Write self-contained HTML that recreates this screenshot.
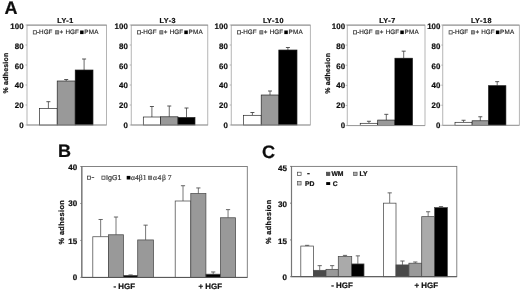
<!DOCTYPE html><html><head><meta charset="utf-8"><style>html,body{margin:0;padding:0;background:#fff}svg{display:block}text{text-rendering:geometricPrecision;font-family:"Liberation Sans", sans-serif}</style></head><body>
<svg width="520" height="290" viewBox="0 0 520 290">
<defs><filter id="bl" x="0" y="0" width="520" height="290" filterUnits="userSpaceOnUse"><feGaussianBlur stdDeviation="0.3"/></filter></defs>
<rect width="520" height="290" fill="#fff"/>
<g filter="url(#bl)">
<rect x="27" y="25" width="79.6" height="100" fill="#fff" stroke="#9c9c9c" stroke-width="0.75"/>
<line x1="27.00" y1="25.20" x2="106.60" y2="25.20" stroke="#888" stroke-width="0.8"/>
<text x="23.70" y="127.95" font-size="7.9" font-weight="bold" text-anchor="end" fill="#111" letter-spacing="0.05" stroke="#111" stroke-width="0.22">0</text>
<line x1="25.50" y1="125.00" x2="27.00" y2="125.00" stroke="#999" stroke-width="0.7"/>
<text x="23.70" y="108.19" font-size="7.9" font-weight="bold" text-anchor="end" fill="#111" letter-spacing="0.05" stroke="#111" stroke-width="0.22">20</text>
<line x1="25.50" y1="105.00" x2="27.00" y2="105.00" stroke="#999" stroke-width="0.7"/>
<text x="23.70" y="88.43" font-size="7.9" font-weight="bold" text-anchor="end" fill="#111" letter-spacing="0.05" stroke="#111" stroke-width="0.22">40</text>
<line x1="25.50" y1="85.00" x2="27.00" y2="85.00" stroke="#999" stroke-width="0.7"/>
<text x="23.70" y="68.67" font-size="7.9" font-weight="bold" text-anchor="end" fill="#111" letter-spacing="0.05" stroke="#111" stroke-width="0.22">60</text>
<line x1="25.50" y1="65.00" x2="27.00" y2="65.00" stroke="#999" stroke-width="0.7"/>
<text x="23.70" y="48.91" font-size="7.9" font-weight="bold" text-anchor="end" fill="#111" letter-spacing="0.05" stroke="#111" stroke-width="0.22">80</text>
<line x1="25.50" y1="45.00" x2="27.00" y2="45.00" stroke="#999" stroke-width="0.7"/>
<text x="23.70" y="29.15" font-size="7.9" font-weight="bold" text-anchor="end" fill="#111" letter-spacing="0.05" stroke="#111" stroke-width="0.22">100</text>
<line x1="25.50" y1="25.00" x2="27.00" y2="25.00" stroke="#999" stroke-width="0.7"/>
<text x="65.50" y="23.30" font-size="7.2" font-weight="bold" text-anchor="middle" fill="#111" letter-spacing="0.5" stroke="#111" stroke-width="0.22">LY-1</text>
<rect x="33.3" y="30.700000000000003" width="3.1" height="3.3" fill="#fff" stroke="#444" stroke-width="0.8"/>
<text x="37.00" y="34.10" font-size="6.3" font-weight="normal" text-anchor="start" fill="#222"  stroke="#222" stroke-width="0.15">-HGF</text>
<rect x="55.599999999999994" y="30.700000000000003" width="3.1" height="3.3" fill="#999" stroke="#555" stroke-width="0.7"/>
<text x="59.60" y="34.10" font-size="6.3" font-weight="normal" text-anchor="start" fill="#222"  stroke="#222" stroke-width="0.15">+</text>
<text x="65.50" y="34.10" font-size="6.3" font-weight="normal" text-anchor="start" fill="#222"  stroke="#222" stroke-width="0.15">HGF</text>
<rect x="80.1" y="30.500000000000004" width="3.5" height="3.6" fill="#000"/>
<text x="84.30" y="34.10" font-size="6.3" font-weight="normal" text-anchor="start" fill="#222" letter-spacing="0.25" stroke="#222" stroke-width="0.15">PMA</text>
<line x1="48.40" y1="101.70" x2="48.40" y2="108.50" stroke="#444" stroke-width="0.8"/>
<line x1="46.40" y1="101.70" x2="50.40" y2="101.70" stroke="#444" stroke-width="0.9"/>
<rect x="39.60" y="108.50" width="17.60" height="16.50" fill="#fff" stroke="#1a1a1a" stroke-width="0.65"/>
<line x1="66.20" y1="79.50" x2="66.20" y2="81.00" stroke="#444" stroke-width="0.8"/>
<line x1="64.20" y1="79.50" x2="68.20" y2="79.50" stroke="#444" stroke-width="0.9"/>
<rect x="57.20" y="81.00" width="18.00" height="44.00" fill="#999" stroke="#1a1a1a" stroke-width="0.65"/>
<line x1="84.10" y1="59.00" x2="84.10" y2="70.00" stroke="#444" stroke-width="0.8"/>
<line x1="82.10" y1="59.00" x2="86.10" y2="59.00" stroke="#444" stroke-width="0.9"/>
<rect x="75.20" y="70.00" width="17.80" height="55.00" fill="#000" stroke="#1a1a1a" stroke-width="0.65"/>
<line x1="27.00" y1="125.00" x2="106.60" y2="125.00" stroke="#999" stroke-width="0.9"/>
<text x="0.00" y="0.00" font-size="7" font-weight="bold" text-anchor="middle" fill="#111" transform="translate(7.9,73.0) rotate(-90)" letter-spacing="0.2" stroke="#111" stroke-width="0.22">% adhesion</text>
<rect x="131.2" y="25" width="76.60000000000002" height="100" fill="#fff" stroke="#9c9c9c" stroke-width="0.75"/>
<line x1="131.20" y1="25.20" x2="207.80" y2="25.20" stroke="#888" stroke-width="0.8"/>
<text x="127.90" y="127.95" font-size="7.9" font-weight="bold" text-anchor="end" fill="#111" letter-spacing="0.05" stroke="#111" stroke-width="0.22">0</text>
<line x1="129.70" y1="125.00" x2="131.20" y2="125.00" stroke="#999" stroke-width="0.7"/>
<text x="127.90" y="108.19" font-size="7.9" font-weight="bold" text-anchor="end" fill="#111" letter-spacing="0.05" stroke="#111" stroke-width="0.22">20</text>
<line x1="129.70" y1="105.00" x2="131.20" y2="105.00" stroke="#999" stroke-width="0.7"/>
<text x="127.90" y="88.43" font-size="7.9" font-weight="bold" text-anchor="end" fill="#111" letter-spacing="0.05" stroke="#111" stroke-width="0.22">40</text>
<line x1="129.70" y1="85.00" x2="131.20" y2="85.00" stroke="#999" stroke-width="0.7"/>
<text x="127.90" y="68.67" font-size="7.9" font-weight="bold" text-anchor="end" fill="#111" letter-spacing="0.05" stroke="#111" stroke-width="0.22">60</text>
<line x1="129.70" y1="65.00" x2="131.20" y2="65.00" stroke="#999" stroke-width="0.7"/>
<text x="127.90" y="48.91" font-size="7.9" font-weight="bold" text-anchor="end" fill="#111" letter-spacing="0.05" stroke="#111" stroke-width="0.22">80</text>
<line x1="129.70" y1="45.00" x2="131.20" y2="45.00" stroke="#999" stroke-width="0.7"/>
<text x="127.90" y="29.15" font-size="7.9" font-weight="bold" text-anchor="end" fill="#111" letter-spacing="0.05" stroke="#111" stroke-width="0.22">100</text>
<line x1="129.70" y1="25.00" x2="131.20" y2="25.00" stroke="#999" stroke-width="0.7"/>
<text x="167.80" y="23.30" font-size="7.2" font-weight="bold" text-anchor="middle" fill="#111" letter-spacing="0.5" stroke="#111" stroke-width="0.22">LY-3</text>
<rect x="137.5" y="30.700000000000003" width="3.1" height="3.3" fill="#fff" stroke="#444" stroke-width="0.8"/>
<text x="141.20" y="34.10" font-size="6.3" font-weight="normal" text-anchor="start" fill="#222"  stroke="#222" stroke-width="0.15">-HGF</text>
<rect x="159.8" y="30.700000000000003" width="3.1" height="3.3" fill="#999" stroke="#555" stroke-width="0.7"/>
<text x="163.80" y="34.10" font-size="6.3" font-weight="normal" text-anchor="start" fill="#222"  stroke="#222" stroke-width="0.15">+</text>
<text x="169.70" y="34.10" font-size="6.3" font-weight="normal" text-anchor="start" fill="#222"  stroke="#222" stroke-width="0.15">HGF</text>
<rect x="184.3" y="30.500000000000004" width="3.5" height="3.6" fill="#000"/>
<text x="188.50" y="34.10" font-size="6.3" font-weight="normal" text-anchor="start" fill="#222" letter-spacing="0.25" stroke="#222" stroke-width="0.15">PMA</text>
<line x1="151.90" y1="106.50" x2="151.90" y2="117.00" stroke="#444" stroke-width="0.8"/>
<line x1="149.90" y1="106.50" x2="153.90" y2="106.50" stroke="#444" stroke-width="0.9"/>
<rect x="143.30" y="117.00" width="17.20" height="8.00" fill="#fff" stroke="#1a1a1a" stroke-width="0.65"/>
<line x1="169.25" y1="106.00" x2="169.25" y2="116.80" stroke="#444" stroke-width="0.8"/>
<line x1="167.25" y1="106.00" x2="171.25" y2="106.00" stroke="#444" stroke-width="0.9"/>
<rect x="160.50" y="116.80" width="17.50" height="8.20" fill="#999" stroke="#1a1a1a" stroke-width="0.65"/>
<line x1="186.50" y1="108.00" x2="186.50" y2="117.50" stroke="#444" stroke-width="0.8"/>
<line x1="184.50" y1="108.00" x2="188.50" y2="108.00" stroke="#444" stroke-width="0.9"/>
<rect x="178.00" y="117.50" width="17.00" height="7.50" fill="#000" stroke="#1a1a1a" stroke-width="0.65"/>
<line x1="131.20" y1="125.00" x2="207.80" y2="125.00" stroke="#999" stroke-width="0.9"/>
<rect x="231.2" y="25" width="79.10000000000002" height="100" fill="#fff" stroke="#9c9c9c" stroke-width="0.75"/>
<line x1="231.20" y1="25.20" x2="310.30" y2="25.20" stroke="#888" stroke-width="0.8"/>
<text x="227.90" y="127.95" font-size="7.9" font-weight="bold" text-anchor="end" fill="#111" letter-spacing="0.05" stroke="#111" stroke-width="0.22">0</text>
<line x1="229.70" y1="125.00" x2="231.20" y2="125.00" stroke="#999" stroke-width="0.7"/>
<text x="227.90" y="108.19" font-size="7.9" font-weight="bold" text-anchor="end" fill="#111" letter-spacing="0.05" stroke="#111" stroke-width="0.22">20</text>
<line x1="229.70" y1="105.00" x2="231.20" y2="105.00" stroke="#999" stroke-width="0.7"/>
<text x="227.90" y="88.43" font-size="7.9" font-weight="bold" text-anchor="end" fill="#111" letter-spacing="0.05" stroke="#111" stroke-width="0.22">40</text>
<line x1="229.70" y1="85.00" x2="231.20" y2="85.00" stroke="#999" stroke-width="0.7"/>
<text x="227.90" y="68.67" font-size="7.9" font-weight="bold" text-anchor="end" fill="#111" letter-spacing="0.05" stroke="#111" stroke-width="0.22">60</text>
<line x1="229.70" y1="65.00" x2="231.20" y2="65.00" stroke="#999" stroke-width="0.7"/>
<text x="227.90" y="48.91" font-size="7.9" font-weight="bold" text-anchor="end" fill="#111" letter-spacing="0.05" stroke="#111" stroke-width="0.22">80</text>
<line x1="229.70" y1="45.00" x2="231.20" y2="45.00" stroke="#999" stroke-width="0.7"/>
<text x="227.90" y="29.15" font-size="7.9" font-weight="bold" text-anchor="end" fill="#111" letter-spacing="0.05" stroke="#111" stroke-width="0.22">100</text>
<line x1="229.70" y1="25.00" x2="231.20" y2="25.00" stroke="#999" stroke-width="0.7"/>
<text x="273.40" y="23.30" font-size="7.2" font-weight="bold" text-anchor="middle" fill="#111" letter-spacing="0.5" stroke="#111" stroke-width="0.22">LY-10</text>
<rect x="237.5" y="30.700000000000003" width="3.1" height="3.3" fill="#fff" stroke="#444" stroke-width="0.8"/>
<text x="241.20" y="34.10" font-size="6.3" font-weight="normal" text-anchor="start" fill="#222"  stroke="#222" stroke-width="0.15">-HGF</text>
<rect x="259.8" y="30.700000000000003" width="3.1" height="3.3" fill="#999" stroke="#555" stroke-width="0.7"/>
<text x="263.80" y="34.10" font-size="6.3" font-weight="normal" text-anchor="start" fill="#222"  stroke="#222" stroke-width="0.15">+</text>
<text x="269.70" y="34.10" font-size="6.3" font-weight="normal" text-anchor="start" fill="#222"  stroke="#222" stroke-width="0.15">HGF</text>
<rect x="284.3" y="30.500000000000004" width="3.5" height="3.6" fill="#000"/>
<text x="288.50" y="34.10" font-size="6.3" font-weight="normal" text-anchor="start" fill="#222" letter-spacing="0.25" stroke="#222" stroke-width="0.15">PMA</text>
<line x1="252.40" y1="112.50" x2="252.40" y2="115.30" stroke="#444" stroke-width="0.8"/>
<line x1="250.40" y1="112.50" x2="254.40" y2="112.50" stroke="#444" stroke-width="0.9"/>
<rect x="243.60" y="115.30" width="17.60" height="9.70" fill="#fff" stroke="#1a1a1a" stroke-width="0.65"/>
<line x1="270.00" y1="91.00" x2="270.00" y2="95.00" stroke="#444" stroke-width="0.8"/>
<line x1="268.00" y1="91.00" x2="272.00" y2="91.00" stroke="#444" stroke-width="0.9"/>
<rect x="261.20" y="95.00" width="17.60" height="30.00" fill="#999" stroke="#1a1a1a" stroke-width="0.65"/>
<line x1="287.90" y1="47.50" x2="287.90" y2="50.00" stroke="#444" stroke-width="0.8"/>
<line x1="285.90" y1="47.50" x2="289.90" y2="47.50" stroke="#444" stroke-width="0.9"/>
<rect x="278.80" y="50.00" width="18.20" height="75.00" fill="#000" stroke="#1a1a1a" stroke-width="0.65"/>
<line x1="231.20" y1="125.00" x2="310.30" y2="125.00" stroke="#999" stroke-width="0.9"/>
<rect x="347.2" y="25" width="77.80000000000001" height="100.6" fill="#fff" stroke="#9c9c9c" stroke-width="0.75"/>
<line x1="347.20" y1="25.20" x2="425.00" y2="25.20" stroke="#888" stroke-width="0.8"/>
<text x="345.20" y="127.95" font-size="7.9" font-weight="bold" text-anchor="end" fill="#111" letter-spacing="0.05" stroke="#111" stroke-width="0.22">0</text>
<line x1="345.70" y1="125.60" x2="347.20" y2="125.60" stroke="#999" stroke-width="0.7"/>
<text x="345.20" y="108.19" font-size="7.9" font-weight="bold" text-anchor="end" fill="#111" letter-spacing="0.05" stroke="#111" stroke-width="0.22">20</text>
<line x1="345.70" y1="105.48" x2="347.20" y2="105.48" stroke="#999" stroke-width="0.7"/>
<text x="345.20" y="88.43" font-size="7.9" font-weight="bold" text-anchor="end" fill="#111" letter-spacing="0.05" stroke="#111" stroke-width="0.22">40</text>
<line x1="345.70" y1="85.36" x2="347.20" y2="85.36" stroke="#999" stroke-width="0.7"/>
<text x="345.20" y="68.67" font-size="7.9" font-weight="bold" text-anchor="end" fill="#111" letter-spacing="0.05" stroke="#111" stroke-width="0.22">60</text>
<line x1="345.70" y1="65.24" x2="347.20" y2="65.24" stroke="#999" stroke-width="0.7"/>
<text x="345.20" y="48.91" font-size="7.9" font-weight="bold" text-anchor="end" fill="#111" letter-spacing="0.05" stroke="#111" stroke-width="0.22">80</text>
<line x1="345.70" y1="45.12" x2="347.20" y2="45.12" stroke="#999" stroke-width="0.7"/>
<text x="345.20" y="29.15" font-size="7.9" font-weight="bold" text-anchor="end" fill="#111" letter-spacing="0.05" stroke="#111" stroke-width="0.22">100</text>
<line x1="345.70" y1="25.00" x2="347.20" y2="25.00" stroke="#999" stroke-width="0.7"/>
<text x="387.40" y="23.30" font-size="7.2" font-weight="bold" text-anchor="middle" fill="#111" letter-spacing="0.5" stroke="#111" stroke-width="0.22">LY-7</text>
<rect x="353.5" y="30.700000000000003" width="3.1" height="3.3" fill="#fff" stroke="#444" stroke-width="0.8"/>
<text x="357.20" y="34.10" font-size="6.3" font-weight="normal" text-anchor="start" fill="#222"  stroke="#222" stroke-width="0.15">-HGF</text>
<rect x="375.8" y="30.700000000000003" width="3.1" height="3.3" fill="#999" stroke="#555" stroke-width="0.7"/>
<text x="379.80" y="34.10" font-size="6.3" font-weight="normal" text-anchor="start" fill="#222"  stroke="#222" stroke-width="0.15">+</text>
<text x="385.70" y="34.10" font-size="6.3" font-weight="normal" text-anchor="start" fill="#222"  stroke="#222" stroke-width="0.15">HGF</text>
<rect x="400.3" y="30.500000000000004" width="3.5" height="3.6" fill="#000"/>
<text x="404.50" y="34.10" font-size="6.3" font-weight="normal" text-anchor="start" fill="#222" letter-spacing="0.25" stroke="#222" stroke-width="0.15">PMA</text>
<line x1="368.95" y1="121.27" x2="368.95" y2="123.29" stroke="#444" stroke-width="0.8"/>
<line x1="366.95" y1="121.27" x2="370.95" y2="121.27" stroke="#444" stroke-width="0.9"/>
<rect x="360.20" y="123.29" width="17.50" height="2.31" fill="#fff" stroke="#1a1a1a" stroke-width="0.65"/>
<line x1="386.30" y1="114.33" x2="386.30" y2="120.07" stroke="#444" stroke-width="0.8"/>
<line x1="384.30" y1="114.33" x2="388.30" y2="114.33" stroke="#444" stroke-width="0.9"/>
<rect x="377.70" y="120.07" width="17.20" height="5.53" fill="#999" stroke="#1a1a1a" stroke-width="0.65"/>
<line x1="403.70" y1="51.16" x2="403.70" y2="58.20" stroke="#444" stroke-width="0.8"/>
<line x1="401.70" y1="51.16" x2="405.70" y2="51.16" stroke="#444" stroke-width="0.9"/>
<rect x="394.90" y="58.20" width="17.60" height="67.40" fill="#000" stroke="#1a1a1a" stroke-width="0.65"/>
<line x1="347.20" y1="125.60" x2="425.00" y2="125.60" stroke="#999" stroke-width="0.9"/>
<text x="0.00" y="0.00" font-size="7" font-weight="bold" text-anchor="middle" fill="#111" transform="translate(329.9,73.3) rotate(-90)" letter-spacing="0.2" stroke="#111" stroke-width="0.22">% adhesion</text>
<rect x="442.8" y="25" width="76.49999999999994" height="100.3" fill="#fff" stroke="#9c9c9c" stroke-width="0.75"/>
<line x1="442.80" y1="25.20" x2="519.30" y2="25.20" stroke="#888" stroke-width="0.8"/>
<text x="440.50" y="127.95" font-size="7.9" font-weight="bold" text-anchor="end" fill="#111" letter-spacing="0.05" stroke="#111" stroke-width="0.22">0</text>
<line x1="441.30" y1="125.30" x2="442.80" y2="125.30" stroke="#999" stroke-width="0.7"/>
<text x="440.50" y="108.19" font-size="7.9" font-weight="bold" text-anchor="end" fill="#111" letter-spacing="0.05" stroke="#111" stroke-width="0.22">20</text>
<line x1="441.30" y1="105.24" x2="442.80" y2="105.24" stroke="#999" stroke-width="0.7"/>
<text x="440.50" y="88.43" font-size="7.9" font-weight="bold" text-anchor="end" fill="#111" letter-spacing="0.05" stroke="#111" stroke-width="0.22">40</text>
<line x1="441.30" y1="85.18" x2="442.80" y2="85.18" stroke="#999" stroke-width="0.7"/>
<text x="440.50" y="68.67" font-size="7.9" font-weight="bold" text-anchor="end" fill="#111" letter-spacing="0.05" stroke="#111" stroke-width="0.22">60</text>
<line x1="441.30" y1="65.12" x2="442.80" y2="65.12" stroke="#999" stroke-width="0.7"/>
<text x="440.50" y="48.91" font-size="7.9" font-weight="bold" text-anchor="end" fill="#111" letter-spacing="0.05" stroke="#111" stroke-width="0.22">80</text>
<line x1="441.30" y1="45.06" x2="442.80" y2="45.06" stroke="#999" stroke-width="0.7"/>
<text x="440.50" y="29.15" font-size="7.9" font-weight="bold" text-anchor="end" fill="#111" letter-spacing="0.05" stroke="#111" stroke-width="0.22">100</text>
<line x1="441.30" y1="25.00" x2="442.80" y2="25.00" stroke="#999" stroke-width="0.7"/>
<text x="481.40" y="23.30" font-size="7.2" font-weight="bold" text-anchor="middle" fill="#111" letter-spacing="0.5" stroke="#111" stroke-width="0.22">LY-18</text>
<rect x="449.1" y="30.700000000000003" width="3.1" height="3.3" fill="#fff" stroke="#444" stroke-width="0.8"/>
<text x="452.80" y="34.10" font-size="6.3" font-weight="normal" text-anchor="start" fill="#222"  stroke="#222" stroke-width="0.15">-HGF</text>
<rect x="471.40000000000003" y="30.700000000000003" width="3.1" height="3.3" fill="#999" stroke="#555" stroke-width="0.7"/>
<text x="475.40" y="34.10" font-size="6.3" font-weight="normal" text-anchor="start" fill="#222"  stroke="#222" stroke-width="0.15">+</text>
<text x="481.30" y="34.10" font-size="6.3" font-weight="normal" text-anchor="start" fill="#222"  stroke="#222" stroke-width="0.15">HGF</text>
<rect x="495.90000000000003" y="30.500000000000004" width="3.5" height="3.6" fill="#000"/>
<text x="500.10" y="34.10" font-size="6.3" font-weight="normal" text-anchor="start" fill="#222" letter-spacing="0.25" stroke="#222" stroke-width="0.15">PMA</text>
<line x1="463.55" y1="120.28" x2="463.55" y2="122.29" stroke="#444" stroke-width="0.8"/>
<line x1="461.55" y1="120.28" x2="465.55" y2="120.28" stroke="#444" stroke-width="0.9"/>
<rect x="455.00" y="122.29" width="17.10" height="3.01" fill="#fff" stroke="#1a1a1a" stroke-width="0.65"/>
<line x1="480.30" y1="116.77" x2="480.30" y2="120.79" stroke="#444" stroke-width="0.8"/>
<line x1="478.30" y1="116.77" x2="482.30" y2="116.77" stroke="#444" stroke-width="0.9"/>
<rect x="472.10" y="120.79" width="16.40" height="4.51" fill="#999" stroke="#1a1a1a" stroke-width="0.65"/>
<line x1="497.20" y1="81.67" x2="497.20" y2="85.68" stroke="#444" stroke-width="0.8"/>
<line x1="495.20" y1="81.67" x2="499.20" y2="81.67" stroke="#444" stroke-width="0.9"/>
<rect x="488.50" y="85.68" width="17.40" height="39.62" fill="#000" stroke="#1a1a1a" stroke-width="0.65"/>
<line x1="442.80" y1="125.30" x2="519.30" y2="125.30" stroke="#999" stroke-width="0.9"/>
<text x="4.50" y="14.00" font-size="18" font-weight="bold" text-anchor="start" fill="#111"  stroke="#111" stroke-width="0.22">A</text>
<text x="58.00" y="157.00" font-size="18" font-weight="bold" text-anchor="start" fill="#111"  stroke="#111" stroke-width="0.22">B</text>
<text x="262.00" y="157.50" font-size="18" font-weight="bold" text-anchor="start" fill="#111"  stroke="#111" stroke-width="0.22">C</text>
<rect x="81.8" y="166.5" width="165.5" height="110.89999999999998" fill="#fff" stroke="#777" stroke-width="0.9"/>
<text x="77.30" y="280.15" font-size="8" font-weight="bold" text-anchor="end" fill="#111" letter-spacing="0.05" stroke="#111" stroke-width="0.22">0</text>
<line x1="80.30" y1="277.40" x2="81.80" y2="277.40" stroke="#555" stroke-width="0.7"/>
<text x="77.30" y="243.58" font-size="8" font-weight="bold" text-anchor="end" fill="#111" letter-spacing="0.05" stroke="#111" stroke-width="0.22">15</text>
<line x1="80.30" y1="240.43" x2="81.80" y2="240.43" stroke="#555" stroke-width="0.7"/>
<text x="77.30" y="205.62" font-size="8" font-weight="bold" text-anchor="end" fill="#111" letter-spacing="0.05" stroke="#111" stroke-width="0.22">30</text>
<line x1="80.30" y1="203.47" x2="81.80" y2="203.47" stroke="#555" stroke-width="0.7"/>
<text x="77.30" y="169.95" font-size="8" font-weight="bold" text-anchor="end" fill="#111" letter-spacing="0.05" stroke="#111" stroke-width="0.22">40</text>
<line x1="80.30" y1="166.50" x2="81.80" y2="166.50" stroke="#555" stroke-width="0.7"/>
<rect x="87.39999999999999" y="176.1" width="3.1" height="3.2" fill="#fff" stroke="#444" stroke-width="0.8"/>
<line x1="91.60" y1="177.50" x2="94.20" y2="177.50" stroke="#333" stroke-width="0.8"/>
<rect x="101.89999999999999" y="176.1" width="3.1" height="3.2" fill="#fff" stroke="#444" stroke-width="0.8"/>
<text x="106.00" y="179.80" font-size="7.1" font-weight="normal" text-anchor="start" fill="#222"  stroke="#222" stroke-width="0.15">IgG1</text>
<rect x="126.69999999999999" y="175.9" width="3.7" height="3.6" fill="#000"/>
<text x="131.00" y="179.80" font-size="7.6" font-weight="normal" text-anchor="start" fill="#333" style="font-family:'Liberation Serif',serif" stroke="#333" stroke-width="0.15">α4β1</text>
<rect x="148.6" y="176.1" width="3.1" height="3.2" fill="#999" stroke="#555" stroke-width="0.7"/>
<text x="152.90" y="179.80" font-size="7.6" font-weight="normal" text-anchor="start" fill="#333" style="font-family:'Liberation Serif',serif" letter-spacing="0.7" stroke="#333" stroke-width="0.15">α4β</text>
<text x="167.80" y="179.80" font-size="7.6" font-weight="normal" text-anchor="start" fill="#333" style="font-family:'Liberation Serif',serif" stroke="#333" stroke-width="0.15">7</text>
<line x1="100.65" y1="219.49" x2="100.65" y2="236.74" stroke="#555" stroke-width="0.8"/>
<line x1="98.55" y1="219.49" x2="102.75" y2="219.49" stroke="#555" stroke-width="0.9"/>
<rect x="92.80" y="236.74" width="15.70" height="40.66" fill="#fff" stroke="#4a4a4a" stroke-width="0.75"/>
<line x1="116.00" y1="217.02" x2="116.00" y2="234.77" stroke="#555" stroke-width="0.8"/>
<line x1="113.90" y1="217.02" x2="118.10" y2="217.02" stroke="#555" stroke-width="0.9"/>
<rect x="108.50" y="234.77" width="15.00" height="42.63" fill="#999" stroke="#4a4a4a" stroke-width="0.75"/>
<line x1="130.60" y1="274.94" x2="130.60" y2="275.43" stroke="#555" stroke-width="0.8"/>
<line x1="128.50" y1="274.94" x2="132.70" y2="274.94" stroke="#555" stroke-width="0.9"/>
<rect x="123.50" y="275.43" width="14.20" height="1.97" fill="#000" stroke="#4a4a4a" stroke-width="0.75"/>
<line x1="145.60" y1="225.15" x2="145.60" y2="239.94" stroke="#555" stroke-width="0.8"/>
<line x1="143.50" y1="225.15" x2="147.70" y2="225.15" stroke="#555" stroke-width="0.9"/>
<rect x="137.70" y="239.94" width="15.80" height="37.46" fill="#999" stroke="#4a4a4a" stroke-width="0.75"/>
<line x1="183.00" y1="185.72" x2="183.00" y2="201.00" stroke="#555" stroke-width="0.8"/>
<line x1="180.90" y1="185.72" x2="185.10" y2="185.72" stroke="#555" stroke-width="0.9"/>
<rect x="175.20" y="201.00" width="15.60" height="76.40" fill="#fff" stroke="#4a4a4a" stroke-width="0.75"/>
<line x1="198.35" y1="187.94" x2="198.35" y2="193.61" stroke="#555" stroke-width="0.8"/>
<line x1="196.25" y1="187.94" x2="200.45" y2="187.94" stroke="#555" stroke-width="0.9"/>
<rect x="190.80" y="193.61" width="15.10" height="83.79" fill="#999" stroke="#4a4a4a" stroke-width="0.75"/>
<line x1="213.20" y1="271.98" x2="213.20" y2="274.20" stroke="#555" stroke-width="0.8"/>
<line x1="211.10" y1="271.98" x2="215.30" y2="271.98" stroke="#555" stroke-width="0.9"/>
<rect x="205.90" y="274.20" width="14.60" height="3.20" fill="#000" stroke="#4a4a4a" stroke-width="0.75"/>
<line x1="228.05" y1="209.63" x2="228.05" y2="217.76" stroke="#555" stroke-width="0.8"/>
<line x1="225.95" y1="209.63" x2="230.15" y2="209.63" stroke="#555" stroke-width="0.9"/>
<rect x="220.50" y="217.76" width="15.10" height="59.64" fill="#999" stroke="#4a4a4a" stroke-width="0.75"/>
<line x1="81.80" y1="277.40" x2="247.30" y2="277.40" stroke="#555" stroke-width="1.0"/>
<line x1="81.80" y1="166.50" x2="81.80" y2="277.40" stroke="#777" stroke-width="1.2"/>
<text x="0.00" y="0.00" font-size="7.4" font-weight="bold" text-anchor="middle" fill="#111" transform="translate(63.8,222.14999999999998) rotate(-90)" letter-spacing="0.35" stroke="#111" stroke-width="0.22">% adhesion</text>
<text x="124.30" y="288.70" font-size="7.9" font-weight="bold" text-anchor="middle" fill="#111"  stroke="#111" stroke-width="0.22">- HGF</text>
<text x="210.30" y="288.70" font-size="7.9" font-weight="bold" text-anchor="middle" fill="#111"  stroke="#111" stroke-width="0.22">+ HGF</text>
<rect x="291.5" y="166.4" width="165.3" height="110.29999999999998" fill="#fff" stroke="#777" stroke-width="0.9"/>
<text x="287.00" y="279.85" font-size="8" font-weight="bold" text-anchor="end" fill="#111" letter-spacing="0.05" stroke="#111" stroke-width="0.22">0</text>
<line x1="290.00" y1="276.70" x2="291.50" y2="276.70" stroke="#555" stroke-width="0.7"/>
<text x="287.00" y="243.58" font-size="8" font-weight="bold" text-anchor="end" fill="#111" letter-spacing="0.05" stroke="#111" stroke-width="0.22">15</text>
<line x1="290.00" y1="239.93" x2="291.50" y2="239.93" stroke="#555" stroke-width="0.7"/>
<text x="287.00" y="206.72" font-size="8" font-weight="bold" text-anchor="end" fill="#111" letter-spacing="0.05" stroke="#111" stroke-width="0.22">30</text>
<line x1="290.00" y1="203.17" x2="291.50" y2="203.17" stroke="#555" stroke-width="0.7"/>
<text x="287.00" y="170.55" font-size="8" font-weight="bold" text-anchor="end" fill="#111" letter-spacing="0.05" stroke="#111" stroke-width="0.22">45</text>
<line x1="290.00" y1="166.40" x2="291.50" y2="166.40" stroke="#555" stroke-width="0.7"/>
<rect x="297.6" y="172.20000000000002" width="3.5" height="3.4" fill="#fff" stroke="#444" stroke-width="0.7"/>
<line x1="307.20" y1="173.70" x2="309.70" y2="173.70" stroke="#111" stroke-width="1.2"/>
<rect x="326.4" y="172.20000000000002" width="3.5" height="3.4" fill="#555" stroke="#444" stroke-width="0.7"/>
<text x="331.40" y="176.30" font-size="6.8" font-weight="bold" text-anchor="start" fill="#111"  stroke="#111" stroke-width="0.22">WM</text>
<rect x="353.6" y="172.20000000000002" width="3.5" height="3.4" fill="#aaa" stroke="#555" stroke-width="0.7"/>
<text x="359.60" y="176.30" font-size="6.8" font-weight="bold" text-anchor="start" fill="#111"  stroke="#111" stroke-width="0.22">LY</text>
<rect x="297.6" y="181.60000000000002" width="3.5" height="3.4" fill="#ccc" stroke="#555" stroke-width="0.7"/>
<text x="305.00" y="185.80" font-size="6.8" font-weight="bold" text-anchor="start" fill="#111"  stroke="#111" stroke-width="0.22">PD</text>
<rect x="326.2" y="182.10000000000002" width="4" height="2.9" fill="#000"/>
<text x="332.80" y="185.80" font-size="6.8" font-weight="bold" text-anchor="start" fill="#111"  stroke="#111" stroke-width="0.22">C</text>
<line x1="307.15" y1="245.33" x2="307.15" y2="246.06" stroke="#555" stroke-width="0.8"/>
<line x1="305.05" y1="245.33" x2="309.25" y2="245.33" stroke="#555" stroke-width="0.9"/>
<rect x="300.80" y="246.06" width="12.70" height="30.64" fill="#fff" stroke="#4a4a4a" stroke-width="0.75"/>
<line x1="319.70" y1="265.67" x2="319.70" y2="270.33" stroke="#555" stroke-width="0.8"/>
<line x1="317.60" y1="265.67" x2="321.80" y2="265.67" stroke="#555" stroke-width="0.9"/>
<rect x="313.40" y="270.33" width="12.60" height="6.37" fill="#4a4a4a" stroke="#4a4a4a" stroke-width="0.75"/>
<line x1="332.15" y1="265.67" x2="332.15" y2="269.35" stroke="#555" stroke-width="0.8"/>
<line x1="330.05" y1="265.67" x2="334.25" y2="265.67" stroke="#555" stroke-width="0.9"/>
<rect x="326.00" y="269.35" width="12.30" height="7.35" fill="#999" stroke="#4a4a4a" stroke-width="0.75"/>
<line x1="345.00" y1="255.38" x2="345.00" y2="256.60" stroke="#555" stroke-width="0.8"/>
<line x1="342.90" y1="255.38" x2="347.10" y2="255.38" stroke="#555" stroke-width="0.9"/>
<rect x="338.30" y="256.60" width="13.40" height="20.10" fill="#aaa" stroke="#4a4a4a" stroke-width="0.75"/>
<line x1="357.85" y1="255.87" x2="357.85" y2="263.95" stroke="#555" stroke-width="0.8"/>
<line x1="355.75" y1="255.87" x2="359.95" y2="255.87" stroke="#555" stroke-width="0.9"/>
<rect x="351.70" y="263.95" width="12.30" height="12.75" fill="#000" stroke="#4a4a4a" stroke-width="0.75"/>
<line x1="389.70" y1="192.87" x2="389.70" y2="203.17" stroke="#555" stroke-width="0.8"/>
<line x1="387.60" y1="192.87" x2="391.80" y2="192.87" stroke="#555" stroke-width="0.9"/>
<rect x="383.40" y="203.17" width="12.60" height="73.53" fill="#fff" stroke="#4a4a4a" stroke-width="0.75"/>
<line x1="402.45" y1="261.01" x2="402.45" y2="264.93" stroke="#555" stroke-width="0.8"/>
<line x1="400.35" y1="261.01" x2="404.55" y2="261.01" stroke="#555" stroke-width="0.9"/>
<rect x="396.00" y="264.93" width="12.90" height="11.77" fill="#4a4a4a" stroke="#4a4a4a" stroke-width="0.75"/>
<line x1="415.30" y1="261.99" x2="415.30" y2="263.22" stroke="#555" stroke-width="0.8"/>
<line x1="413.20" y1="261.99" x2="417.40" y2="261.99" stroke="#555" stroke-width="0.9"/>
<rect x="408.90" y="263.22" width="12.80" height="13.48" fill="#999" stroke="#4a4a4a" stroke-width="0.75"/>
<line x1="428.15" y1="211.75" x2="428.15" y2="216.65" stroke="#555" stroke-width="0.8"/>
<line x1="426.05" y1="211.75" x2="430.25" y2="211.75" stroke="#555" stroke-width="0.9"/>
<rect x="421.70" y="216.65" width="12.90" height="60.05" fill="#aaa" stroke="#4a4a4a" stroke-width="0.75"/>
<line x1="441.00" y1="206.60" x2="441.00" y2="207.58" stroke="#555" stroke-width="0.8"/>
<line x1="438.90" y1="206.60" x2="443.10" y2="206.60" stroke="#555" stroke-width="0.9"/>
<rect x="434.60" y="207.58" width="12.80" height="69.12" fill="#000" stroke="#4a4a4a" stroke-width="0.75"/>
<line x1="291.50" y1="276.70" x2="456.80" y2="276.70" stroke="#555" stroke-width="1.0"/>
<line x1="291.50" y1="166.40" x2="291.50" y2="276.70" stroke="#777" stroke-width="1.2"/>
<text x="0.00" y="0.00" font-size="7.4" font-weight="bold" text-anchor="middle" fill="#111" transform="translate(271.4,221.75) rotate(-90)" letter-spacing="0.35" stroke="#111" stroke-width="0.22">% adhesion</text>
<text x="342.00" y="288.00" font-size="7.9" font-weight="bold" text-anchor="middle" fill="#111"  stroke="#111" stroke-width="0.22">- HGF</text>
<text x="426.30" y="288.00" font-size="7.9" font-weight="bold" text-anchor="middle" fill="#111"  stroke="#111" stroke-width="0.22">+ HGF</text>
</g></svg></body></html>
